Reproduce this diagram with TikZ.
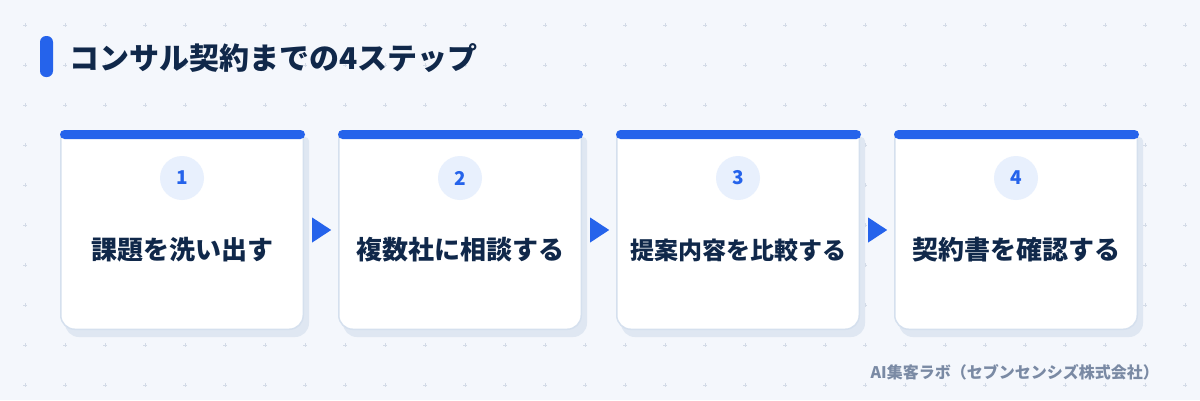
\documentclass[tikz,border=0pt]{standalone}
\usepackage{fontspec}
\setmainfont{Noto Sans CJK JP}
\usetikzlibrary{calc}
\definecolor{bgc}{HTML}{F4F7FC}
\definecolor{dotc}{HTML}{D3DBE7}
\definecolor{accent}{HTML}{2563EB}
\definecolor{navy}{HTML}{10284A}
\definecolor{circc}{HTML}{E8F0FD}
\definecolor{footc}{HTML}{7A8AA4}
\definecolor{borderc}{HTML}{D5E0EE}
\definecolor{shadowc}{HTML}{DFE7F2}
\tikzset{
  cardbox/.style={minimum width=244pt, minimum height=200pt, inner sep=0pt},
  numdisc/.style={circle, fill=circc, minimum size=44pt, inner sep=0pt, text=accent, font=\bfseries\fontsize{19}{22}\selectfont},
  steplabel/.style={inner sep=0pt, text=navy},
  gridmark/.style={draw=dotc, line width=0.9pt},
}
\begin{document}
\begin{tikzpicture}[x=1pt,y=-1pt]
\fill[bgc] (0,0) rectangle (1200,400);
\useasboundingbox (0,0) rectangle (1200,400);
% dot grid
\foreach \i in {0,...,29} {
  \foreach \j in {0,...,9} {
    \draw[gridmark] ({25+40*\i-2},{25+40*\j}) -- +(4,0) ({25+40*\i},{25+40*\j-2}) -- +(0,4);
  }
}
% title
\node[fill=accent, rounded corners=6pt, minimum width=13pt, minimum height=41pt, inner sep=0pt] (bar) at (46.5,56.5) {};
\node[anchor=west, inner sep=0pt, text=navy, font=\bfseries\fontsize{30}{36}\selectfont] (title) at (69,58) {コンサル契約までの4ステップ};
% cards
\foreach \k/\t/\fs in {1/課題を洗い出す/26, 2/複数社に相談する/26, 3/提案内容を比較する/24, 4/契約書を確認する/26} {
  \pgfmathsetmacro{\xa}{60+278*(\k-1)}
  \pgfmathsetmacro{\xb}{\xa+244}
  \pgfmathsetmacro{\xc}{\xa+122}
  \node[cardbox] (card\k) at (\xc,230) {};
  \fill[shadowc] (\xa+5,237) [rounded corners=4pt] -- (\xa+5,137) -- (\xb+5,137) -- (\xb+5,187) [rounded corners=14pt] -- (\xb+5,337) -- (\xa+5,337) -- (\xa+5,237);
  \filldraw[fill=white, draw=borderc, line width=1.5pt] (\xa+0.75,230) [rounded corners=4pt] -- (\xa+0.75,131) -- (\xb-0.75,131) -- (\xb-0.75,180) [rounded corners=14pt] -- (\xb-0.75,329.25) -- (\xa+0.75,329.25) -- (\xa+0.75,230);
  \fill[accent, rounded corners=4.5pt] (\xa,130) rectangle (\xb+1,139);
  \node[numdisc] (num\k) at (\xc,178) {\k};
  \node[steplabel, font=\bfseries\fontsize{\fs}{\fs}\selectfont] (label\k) at (\xc,250) {\t};
}
% arrows between cards
\foreach \k in {1,2,3} {
  \fill[accent] ($(card\k.east)+(8,-12.5)$) -- ($(card\k.east)+(8,12.5)$) -- ($(card\k.east)+(27,0)$) -- cycle;
}
% footer
\node[anchor=east, inner sep=0pt, text=footc, font=\bfseries\fontsize{16}{19}\selectfont] (foot) at (1159,372) {AI集客ラボ（セブンセンシズ株式会社）};
\end{tikzpicture}
\end{document}
